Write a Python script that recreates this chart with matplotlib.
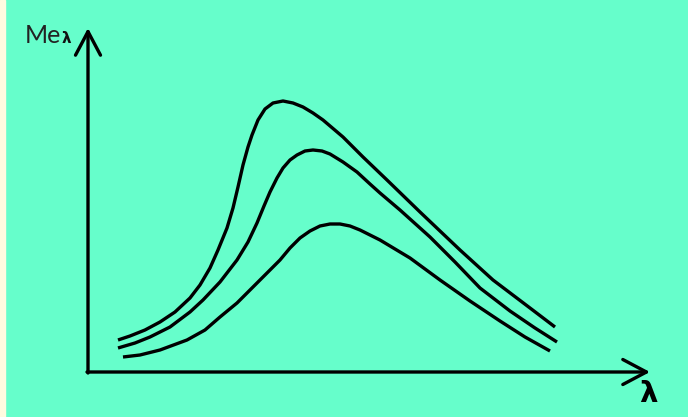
import matplotlib
matplotlib.use("Agg")
import numpy as np
import matplotlib.pyplot as plt

# emittance curves (x = wavelength, y = Me_lambda)
top_x = [30, 42, 57, 72, 87, 102, 112, 122, 130, 139, 145, 150, 155, 160, 164, 170, 177, 185, 195,
         205, 215, 225, 235, 255, 275, 299, 332, 372, 405, 442, 467]
top_y = [32, 36, 42, 50, 60, 74, 87, 104, 122, 144, 164, 185, 207, 225, 237, 252, 263, 269, 271,
         269, 265, 259, 252, 235, 215, 192, 160, 122, 92, 64, 45]

mid_x = [30, 47, 62, 82, 102, 115, 132, 149, 160, 169, 176, 182, 189, 195, 202, 209, 217, 225, 234,
         242, 255, 269, 282, 292, 312, 342, 367, 392, 422, 447, 469]
mid_y = [24, 29, 35, 45, 60, 72, 90, 112, 130, 149, 166, 180, 194, 204, 212, 217, 221, 222, 221,
         218, 210, 200, 188, 179, 162, 135, 110, 84, 61, 44, 30]

low_x = [35, 52, 72, 99, 117, 132, 149, 165, 179, 192, 202, 212, 222, 232, 242, 252, 262, 272,
         292, 322, 352, 382, 412, 437, 462]
low_y = [15, 17, 22, 32, 42, 55, 69, 85, 99, 112, 124, 134, 141, 146, 148, 148, 146, 142,
         132, 114, 92, 71, 51, 35, 21]

bg = "#66FECB"

fig = plt.figure(figsize=(6.88, 4.17), dpi=100)
fig.patch.set_facecolor(bg)
ax = fig.add_axes([0, 0, 1, 1])
ax.set_facecolor(bg)
ax.set_xlim(-88, 600)
ax.set_ylim(-45, 372)
ax.axis('off')

# cream strip on the left edge
ax.axvspan(-88, -83, color="#FFFBE0", zorder=0)

for xs, ys in [(top_x, top_y), (mid_x, mid_y), (low_x, low_y)]:
    ax.plot(xs, ys, color='black', lw=2.4, solid_capstyle='butt', solid_joinstyle='round')

# axes arrows
arrow = dict(arrowstyle='->,head_length=0.85,head_width=0.45', lw=2.4, color='black',
             mutation_scale=20, shrinkA=0, shrinkB=0)
ax.annotate('', xy=(0, 344), xytext=(0, -1), arrowprops=arrow)
ax.annotate('', xy=(562, 0), xytext=(-1, 0), arrowprops=arrow)

ax.text(-63, 329, 'Me', fontsize=18, family='Lato', color='#222222', va='baseline', ha='left')
ax.text(-26, 329, 'λ', fontsize=11, weight='bold', color='#111111', va='baseline', ha='left')
ax.text(560, -22, 'λ', fontsize=21, weight='bold', color='black', va='center', ha='center')

fig.savefig('out.png', dpi=100, facecolor=bg)
